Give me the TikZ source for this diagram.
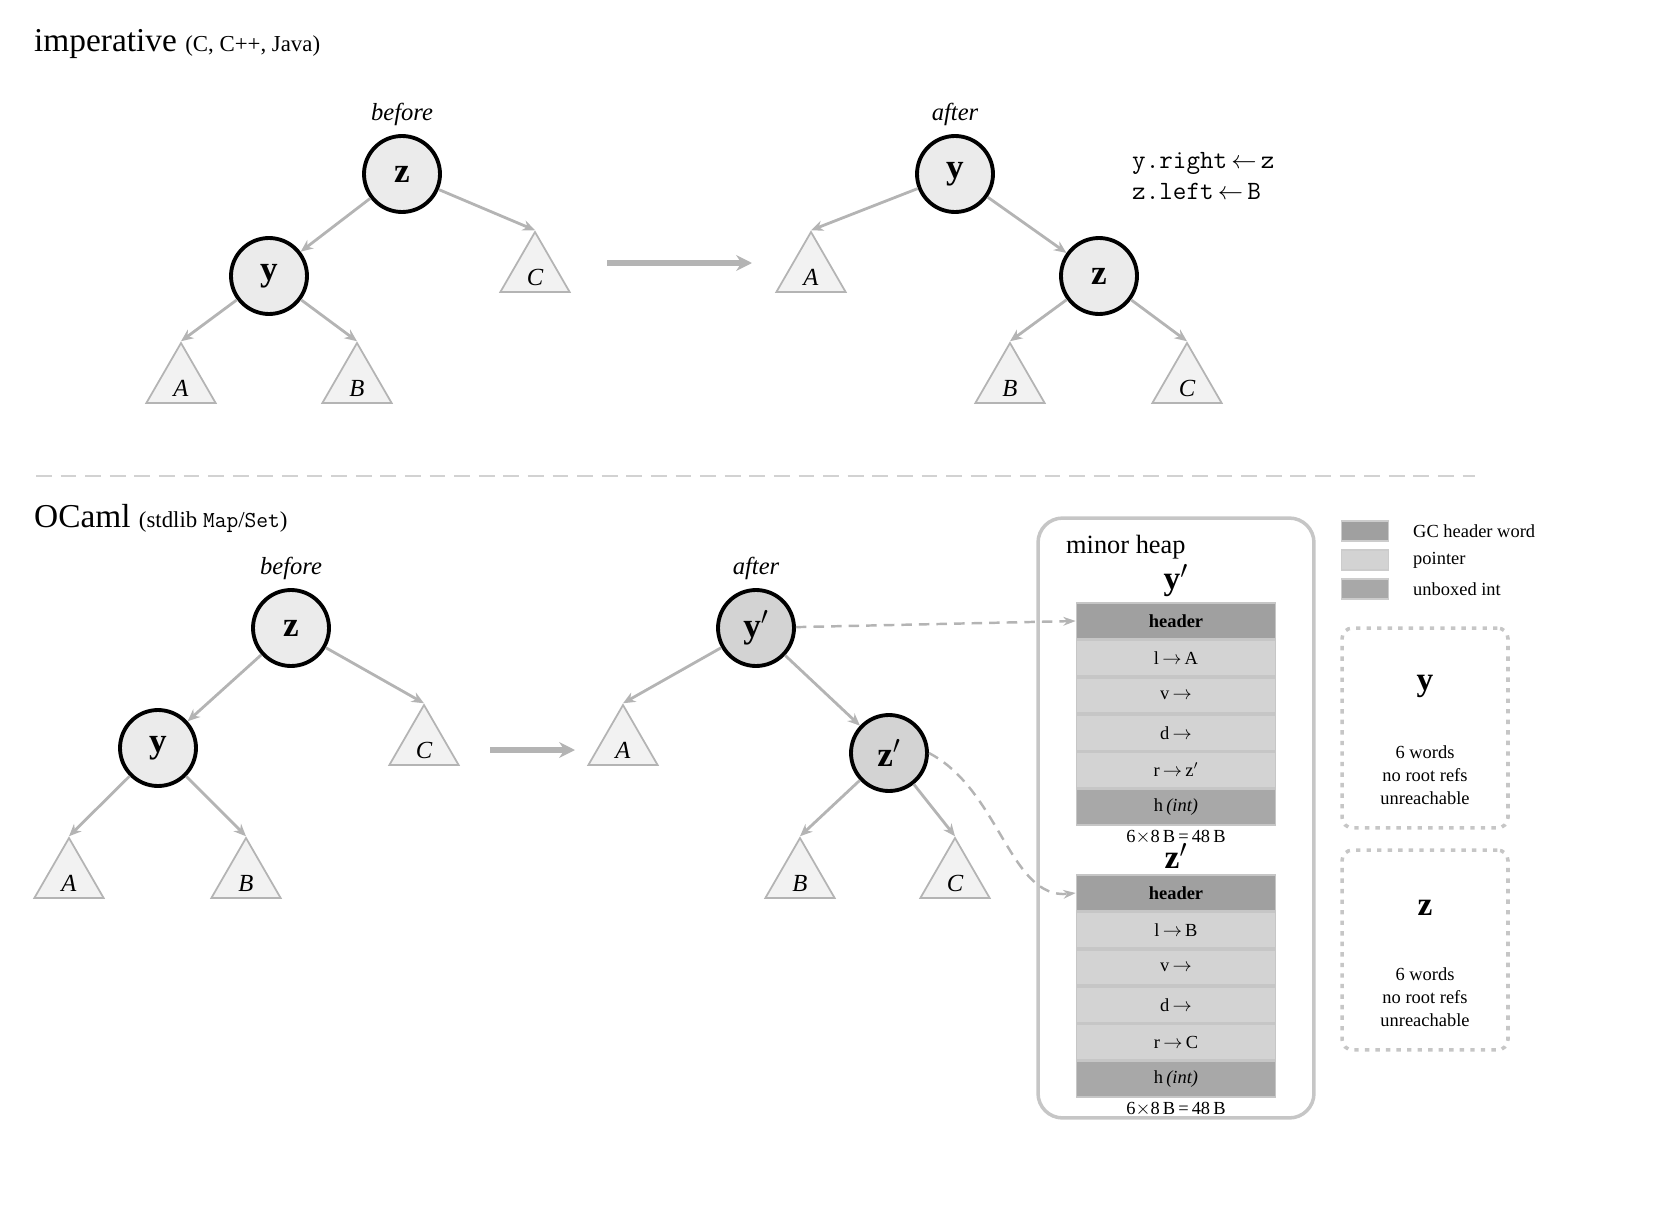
\documentclass[tikz,border=0pt]{standalone}
\usepackage{fontspec}
\setmainfont{Liberation Serif}
\usepackage{tikz}
\usetikzlibrary{shapes.geometric, arrows.meta, positioning}
\definecolor{edgegray}{HTML}{B4B4B4}
\definecolor{hdrgray}{HTML}{A0A0A0}
\definecolor{ptrgray}{HTML}{D3D3D3}
\definecolor{intgray}{HTML}{A8A8A8}
\begin{document}
\begin{tikzpicture}[x=0.02cm, y=-0.02cm,
        tnode/.style={circle, draw=black, line width=2.2pt, fill=gray!16,
                      minimum size=1.52cm, inner sep=0pt, font=\fontsize{20}{22}\selectfont\bfseries},
        cnode/.style={tnode, fill=ptrgray},
        sub/.style={regular polygon, regular polygon sides=3, draw=edgegray,
                    line width=1pt, fill=gray!10, minimum size=1.6cm, inner sep=0pt,
                    font=\fontsize{14}{16}\selectfont\itshape, text depth=0pt},
        arr/.style={-{Stealth[length=7pt, width=6pt]}, edgegray, line width=1.6pt},
        big/.style={-{Stealth[length=9pt, width=9pt]}, edgegray, line width=3pt},
        ptr/.style={-{Stealth[length=7pt, width=5pt]}, edgegray, line width=1.4pt, dash pattern=on 6pt off 4pt},
        lbl/.style={font=\fontsize{14}{16}\selectfont\itshape},
        cell/.style={draw=gray!45, line width=1pt, minimum width=3.98cm, minimum height=0.71cm,
                     inner sep=0pt, font=\fontsize{10.5}{12}\selectfont},
        hdr/.style={cell, fill=hdrgray, font=\fontsize{10.5}{12}\selectfont\bfseries},
        pcell/.style={cell, fill=ptrgray},
        icell/.style={cell, fill=intgray},
        small/.style={font=\fontsize{10.5}{13}\selectfont, align=center},
        blk/.style={font=\fontsize{19}{20}\selectfont\bfseries, inner sep=0pt},
        ghost/.style={draw=gray!45, line width=2pt, dash pattern=on 2.5pt off 3.5pt, rounded corners=6pt}
      ]
        \useasboundingbox (0,0) rectangle (1674,1220);

        % imperative
        \node[anchor=base west, font=\fontsize{19}{22}\selectfont] (title1) at (28,52)
          {imperative {\fontsize{13}{16}\selectfont(C, C++, Java)}};
        \node[tnode] (z1) at (402,174) {z};
        \node[tnode] (y1) at (269,276) {y};
        \node[sub] (c1) at (535,272) {\raisebox{-6pt}{C}};
        \node[sub] (a1) at (181,383) {\raisebox{-6pt}{A}};
        \node[sub] (b1) at (357,383) {\raisebox{-6pt}{B}};
        \node[lbl, above=1pt of z1] {before};
        \draw[arr] (z1) -- (y1);
        \draw[arr] (z1) -- (c1.corner 1);
        \draw[arr] (y1) -- (a1.corner 1);
        \draw[arr] (y1) -- (b1.corner 1);

        \coordinate (s1) at (607,263);
        \coordinate (e1) at (752,263);
        \draw[big] (s1) -- (e1);

        \node[tnode] (y2) at (955,174) {y};
        \node[tnode] (z2) at (1099,276) {z};
        \node[sub] (a2) at (811,272) {\raisebox{-6pt}{A}};
        \node[sub] (b2) at (1010,383) {\raisebox{-6pt}{B}};
        \node[sub] (c2) at (1187,383) {\raisebox{-6pt}{C}};
        \node[lbl, above=1pt of y2] {after};
        \draw[arr] (y2) -- (a2.corner 1);
        \draw[arr] (y2) -- (z2);
        \draw[arr] (z2) -- (b2.corner 1);
        \draw[arr] (z2) -- (c2.corner 1);
        \node[anchor=north west, font=\fontsize{15}{17}\selectfont\ttfamily, align=left] (code) at (1126,146)
          {y.right$\,\leftarrow\,$z\\[1pt]z.left$\,\leftarrow\,$B};

        \coordinate (d1) at (36,476);
        \coordinate (d2) at (1475,476);
        \draw[gray!35, line width=1.3pt, dash pattern=on 9pt off 5pt] (d1) -- (d2);

        % OCaml
        \node[anchor=base west, font=\fontsize{19}{22}\selectfont] (title2) at (28,527)
          {OCaml {\fontsize{13}{16}\selectfont(stdlib \texttt{Map}/\texttt{Set})}};
        \node[tnode] (z3) at (291,628) {z};
        \node[tnode] (y3) at (158,748) {y};
        \node[sub] (c3) at (424,745) {\raisebox{-6pt}{C}};
        \node[sub] (a3) at (69,878) {\raisebox{-6pt}{A}};
        \node[sub] (b3) at (246,878) {\raisebox{-6pt}{B}};
        \node[lbl, above=1pt of z3] {before};
        \draw[arr] (z3) -- (y3);
        \draw[arr] (z3) -- (c3.corner 1);
        \draw[arr] (y3) -- (a3.corner 1);
        \draw[arr] (y3) -- (b3.corner 1);

        \coordinate (s2) at (490,750);
        \coordinate (e2) at (575,750);
        \draw[big] (s2) -- (e2);

        \node[cnode] (y4) at (756,628) {y$'$};
        \node[cnode] (z4) at (889,753) {z$'$};
        \node[sub] (a4) at (623,745) {\raisebox{-6pt}{A}};
        \node[sub] (b4) at (800,878) {\raisebox{-6pt}{B}};
        \node[sub] (c4) at (955,878) {\raisebox{-6pt}{C}};
        \node[lbl, above=1pt of y4] {after};
        \draw[arr] (y4) -- (a4.corner 1);
        \draw[arr] (y4) -- (z4);
        \draw[arr] (z4) -- (b4.corner 1);
        \draw[arr] (z4) -- (c4.corner 1);

        % minor heap
        \node[draw=gray!45, line width=2pt, rounded corners=14pt, minimum width=5.52cm,
              minimum height=12cm] (heap) at (1176,818) {};
        \node[anchor=base west, font=\fontsize{15}{17}\selectfont] (heapl) at (1060,553) {minor heap};

        \node[hdr] (h1) at (1176,621) {header};
        \node[pcell, below=0pt of h1] (l1) {l$\,\rightarrow\,$A};
        \node[pcell, below=0pt of l1] (v1) {v$\,\rightarrow$};
        \node[pcell, below=0pt of v1] (d1c) {d$\,\rightarrow$};
        \node[pcell, below=0pt of d1c] (r1) {r$\,\rightarrow\,$z$'$};
        \node[icell, below=0pt of r1] (i1) {h\,\textit{(int)}};
        \node[blk, above=3pt of h1] (yl) {y$'$};
        \node[small, below=1pt of i1, inner sep=1pt] (sz1) {6$\times$8\,B\,=\,48\,B};

        \node[hdr] (h2) at (1176,893) {header};
        \node[pcell, below=0pt of h2] (l2) {l$\,\rightarrow\,$B};
        \node[pcell, below=0pt of l2] (v2) {v$\,\rightarrow$};
        \node[pcell, below=0pt of v2] (d2c) {d$\,\rightarrow$};
        \node[pcell, below=0pt of d2c] (r2) {r$\,\rightarrow\,$C};
        \node[icell, below=0pt of r2] (i2) {h\,\textit{(int)}};
        \node[blk, above=3pt of h2] (zl) {z$'$};
        \node[small, below=1pt of i2, inner sep=1pt] (sz2) {6$\times$8\,B\,=\,48\,B};

        \draw[ptr] (y4) -- (h1.west);
        \draw[ptr] (z4.east) .. controls (1000,790) and (1010,900) .. (h2.west);

        % legend
        \node[draw=gray!40, line width=1pt, fill=hdrgray, minimum width=0.94cm, minimum height=0.4cm] (k1) at (1365,531) {};
        \node[draw=gray!40, line width=1pt, fill=ptrgray, minimum width=0.94cm, minimum height=0.4cm] (k2) at (1365,560) {};
        \node[draw=gray!40, line width=1pt, fill=intgray, minimum width=0.94cm, minimum height=0.4cm] (k3) at (1365,589) {};
        \node[small, anchor=west] at (1407,531) {GC header word};
        \node[small, anchor=west] at (1407,560) {pointer};
        \node[small, anchor=west] at (1407,589) {unboxed int};

        % old nodes
        \node[ghost, minimum width=3.32cm, minimum height=4cm] (oy) at (1425,728) {};
        \node[blk] at (1425,686) {y};
        \node[small] at (1425,775) {6 words\\no root refs\\unreachable};
        \node[ghost, minimum width=3.32cm, minimum height=4cm] (oz) at (1425,950) {};
        \node[blk] at (1425,908) {z};
        \node[small] at (1425,997) {6 words\\no root refs\\unreachable};
      \end{tikzpicture}
\end{document}
